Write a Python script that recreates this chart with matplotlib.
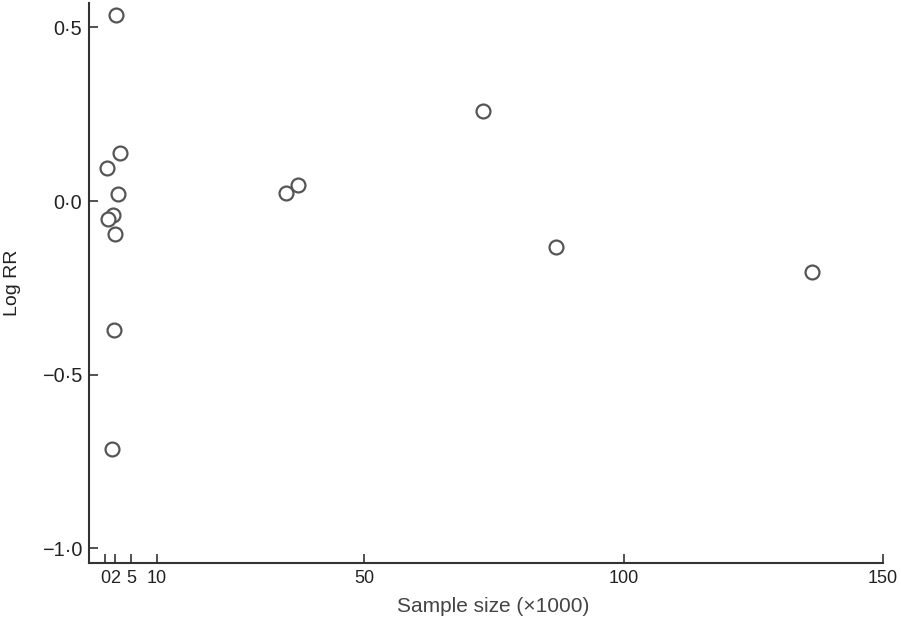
import matplotlib
matplotlib.use("Agg")
import matplotlib.pyplot as plt

# Data (sample size in thousands, log RR)
sample_size = [2.1, 2.8, 0.3, 2.4, 1.6, 0.5, 2.0, 1.8, 1.4, 34.9, 37.2, 72.9, 87.0, 136.3]
log_rr = [0.536, 0.138, 0.094, 0.020, -0.040, -0.052, -0.095, -0.372, -0.714, 0.022, 0.047, 0.259, -0.133, -0.203]

xticks = [0, 2, 5, 10, 50, 100, 150]
xtick_labels = ["0", "2", "5", "10", "50", "100", "150"]
yticks = [-1.0, -0.5, 0.0, 0.5]
ytick_labels = ["\u22121\u00b70", "\u22120\u00b75", "0\u00b70", "0\u00b75"]

plt.rcParams['font.family'] = ['Liberation Sans', 'DejaVu Sans']

W, H = 901, 622
fig = plt.figure(figsize=(W / 100, H / 100), dpi=100)
ax = fig.add_axes([89 / W, (H - 563) / H, (883 - 89) / W, (563 - 3) / H])

ax.scatter(sample_size, log_rr, s=100, facecolors='white', edgecolors='#555555',
           linewidths=1.6, zorder=3)

ax.set_xlim(-3.1, 150)
ax.set_ylim(-1.042, 0.570)

ax.set_xticks(xticks)
ax.set_xticklabels(xtick_labels)
ax.set_yticks(yticks)
ax.set_yticklabels(ytick_labels)

for s in ['top', 'right']:
    ax.spines[s].set_visible(False)
for s in ['left', 'bottom']:
    ax.spines[s].set_color('#333333')
    ax.spines[s].set_linewidth(1.5)

ax.tick_params(axis='both', direction='in', length=6.5, width=1.2, color='#333333',
               labelcolor='#222222')
ax.tick_params(axis='x', pad=5, labelsize=13)
ax.tick_params(axis='y', pad=5, labelsize=14.3)

ax.set_xlabel("Sample size (\u00d71000)", fontsize=15, color='#444444')
ax.xaxis.set_label_coords(0.509, -0.060)
ax.xaxis.label.set_va('top')
ax.set_ylabel("Log RR", fontsize=14, color='#222222')
ax.yaxis.set_label_coords(-0.0856, 0.5)

fig.savefig("out.png", dpi=100)
